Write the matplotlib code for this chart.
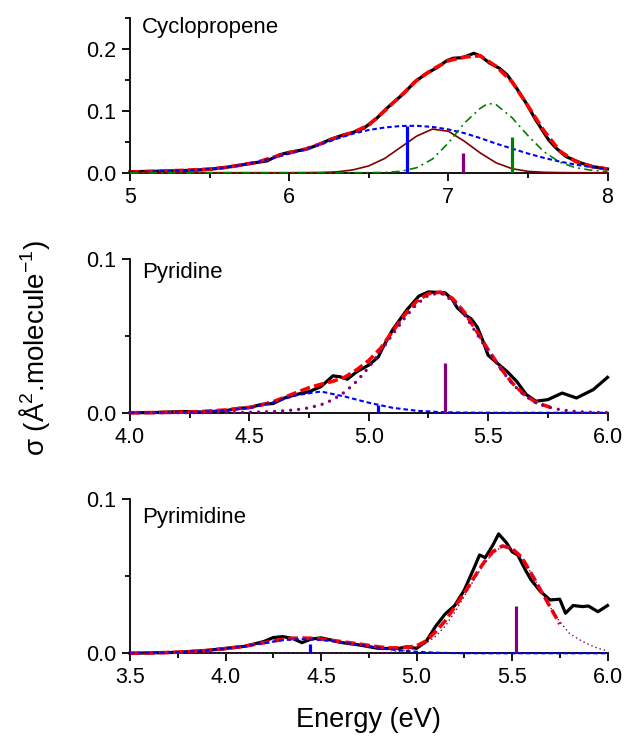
import numpy as np
import matplotlib.pyplot as plt
from matplotlib.ticker import MultipleLocator, FormatStrFormatter

plt.rcParams['font.family'] = ['Liberation Sans', 'DejaVu Sans']
plt.rcParams['mathtext.fontset'] = 'custom'
plt.rcParams['mathtext.rm'] = 'Liberation Sans'
plt.rcParams['mathtext.default'] = 'regular'

# ---------------- Cyclopropene ----------------
cp_exp_E = [5.00, 5.20, 5.40, 5.50, 5.60, 5.69, 5.75, 5.86, 5.94, 6.00, 6.11, 6.19, 6.26,
            6.34, 6.40, 6.47, 6.55, 6.63, 6.72, 6.79, 6.86, 6.93, 6.99, 7.03, 7.09, 7.16,
            7.20, 7.26, 7.32, 7.37, 7.43, 7.49, 7.55, 7.63, 7.68, 7.74, 7.83, 7.91, 8.00]
cp_exp = [0.0016, 0.0025, 0.004, 0.0054, 0.0085, 0.012, 0.0148, 0.019, 0.029, 0.033, 0.038,
          0.046, 0.054, 0.061, 0.065, 0.072, 0.088, 0.108, 0.128, 0.147, 0.160, 0.170, 0.181,
          0.185, 0.186, 0.193, 0.189, 0.177, 0.169, 0.158, 0.136, 0.112, 0.085, 0.053, 0.039,
          0.026, 0.016, 0.0097, 0.006]
cp_E = [5.0, 5.1, 5.2, 5.3, 5.4, 5.5, 5.6, 5.7, 5.8, 5.9, 6.0, 6.1, 6.2, 6.3, 6.4, 6.5,
        6.6, 6.7, 6.8, 6.9, 7.0, 7.1, 7.2, 7.3, 7.4, 7.5, 7.6, 7.7, 7.8, 7.9, 8.0]
cp_fit = [0.001, 0.0018, 0.0025, 0.0035, 0.0045, 0.006, 0.0085, 0.0125, 0.017, 0.025, 0.032,
          0.038, 0.047, 0.057, 0.065, 0.077, 0.100, 0.124, 0.149, 0.167, 0.181, 0.187, 0.189,
          0.172, 0.147, 0.108, 0.068, 0.035, 0.018, 0.010, 0.006]
cp_g1 = [0.001, 0.0015, 0.0025, 0.0035, 0.0045, 0.006, 0.0085, 0.0125, 0.017, 0.024, 0.031,
         0.038, 0.046, 0.055, 0.063, 0.069, 0.073, 0.0755, 0.0758, 0.074, 0.070, 0.064, 0.056,
         0.047, 0.039, 0.031, 0.024, 0.018, 0.013, 0.009, 0.006]
cp_g2 = [0, 0, 0, 0, 0, 0, 0, 0, 0, 0, 0, 0.0001, 0.0004, 0.0014, 0.0045, 0.011, 0.023,
         0.041, 0.059, 0.0705, 0.067, 0.051, 0.032, 0.016, 0.0065, 0.0022, 0.0007, 0.0002,
         0, 0, 0]
cp_g3_E = [5.0, 6.0, 6.5, 6.6, 6.7, 6.8, 6.9, 7.0, 7.1, 7.2, 7.25, 7.3, 7.4, 7.5, 7.6, 7.7,
           7.8, 7.9, 8.0]
cp_g3 = [0, 0, 0.0001, 0.0005, 0.0022, 0.008, 0.022, 0.048, 0.080, 0.104, 0.112, 0.110,
         0.089, 0.060, 0.034, 0.017, 0.008, 0.004, 0.002]
cp_stick_E = [6.74, 7.09, 7.40]
cp_stick_h = [0.076, 0.032, 0.058]

# ---------------- Pyridine ----------------
py_exp_E = [4.00, 4.10, 4.22, 4.30, 4.40, 4.45, 4.50, 4.55, 4.60, 4.65, 4.70, 4.75, 4.80,
            4.85, 4.88, 4.91, 4.95, 5.00, 5.04, 5.06, 5.10, 5.16, 5.21, 5.25, 5.32, 5.35,
            5.37, 5.40, 5.43, 5.455, 5.48, 5.50, 5.54, 5.58, 5.62, 5.66, 5.70, 5.75, 5.81,
            5.87, 5.94, 6.00]
py_exp = [0.0, 0.0001, 0.0008, 0.0004, 0.0013, 0.0028, 0.0033, 0.0054, 0.006, 0.0098, 0.012,
          0.0137, 0.017, 0.024, 0.0234, 0.0218, 0.0267, 0.031, 0.0363, 0.0427, 0.054, 0.067,
          0.0759, 0.0786, 0.078, 0.0737, 0.0684, 0.0641, 0.0609, 0.0556, 0.046, 0.0374, 0.032,
          0.0267, 0.0203, 0.0118, 0.0075, 0.0085, 0.0128, 0.0096, 0.015, 0.023]
py_fit_E = [4.00, 4.10, 4.20, 4.30, 4.40, 4.50, 4.55, 4.60, 4.65, 4.70, 4.75, 4.80, 4.85,
            4.90, 4.95, 5.00, 5.05, 5.10, 5.15, 5.20, 5.25, 5.30, 5.35, 5.40, 5.45, 5.50,
            5.55, 5.60, 5.65, 5.70, 5.76]
py_fit = [0.0, 0.0001, 0.0003, 0.0008, 0.0018, 0.0035, 0.005, 0.0072, 0.0102, 0.0133, 0.0163,
          0.0185, 0.0205, 0.0232, 0.028, 0.034, 0.042, 0.053, 0.0635, 0.0725, 0.0775, 0.0785,
          0.0745, 0.0655, 0.0535, 0.041, 0.0295, 0.0195, 0.012, 0.0068, 0.0035]
py_g1_E = [4.0, 4.1, 4.2, 4.3, 4.4, 4.5, 4.6, 4.7, 4.8, 4.9, 5.0, 5.1, 5.2, 5.3, 5.4, 5.5,
           5.6, 5.7, 5.8, 5.9, 6.0]
py_g1 = [0, 0.0001, 0.0003, 0.0007, 0.0015, 0.003, 0.0068, 0.0115, 0.0138, 0.0105, 0.0065,
         0.0032, 0.0013, 0.0004, 0.0001, 0, 0, 0, 0, 0, 0]
py_g2_E = [4.00, 4.05, 4.10, 4.15, 4.20, 4.25, 4.30, 4.35, 4.40, 4.45, 4.50, 4.55, 4.60,
           4.65, 4.70, 4.75, 4.80, 4.85, 4.90, 4.95, 5.00, 5.05, 5.10, 5.15, 5.20, 5.25,
           5.30, 5.35, 5.40, 5.45, 5.50, 5.55, 5.60, 5.65, 5.70, 5.75, 5.80, 5.85, 5.90,
           5.95, 6.00]
py_g2 = [0, 0, 0, 0, 0, 0, 0, 0.0001, 0.0001, 0.0002, 0.0003, 0.0005, 0.0008, 0.0013, 0.002,
         0.0032, 0.0052, 0.0085, 0.0135, 0.0205, 0.0295, 0.040, 0.051, 0.0615, 0.0705, 0.0765,
         0.078, 0.073, 0.064, 0.052, 0.040, 0.029, 0.019, 0.0115, 0.0065, 0.0038, 0.002,
         0.001, 0.0005, 0.0002, 0.0001]
py_stick_E = [5.04, 5.32]
py_stick_h = [0.005, 0.0325]

# ---------------- Pyrimidine ----------------
pm_exp_E = [3.50, 3.75, 3.90, 4.00, 4.10, 4.20, 4.25, 4.30, 4.35, 4.40, 4.45, 4.50, 4.55,
            4.60, 4.70, 4.80, 4.90, 4.95, 5.00, 5.05, 5.10, 5.15, 5.20, 5.25, 5.30, 5.33,
            5.36, 5.40, 5.43, 5.47, 5.50, 5.53, 5.57, 5.60, 5.65, 5.70, 5.75, 5.78, 5.82,
            5.87, 5.90, 5.95, 6.00]
pm_exp = [0.0, 0.0006, 0.0018, 0.0032, 0.0045, 0.0076, 0.0102, 0.0108, 0.0097, 0.0069, 0.0093,
          0.0100, 0.0087, 0.0071, 0.0054, 0.0032, 0.0030, 0.0042, 0.0032, 0.0076, 0.0175,
          0.0255, 0.031, 0.041, 0.055, 0.0638, 0.0621, 0.0703, 0.0775, 0.0719, 0.066, 0.0638,
          0.0541, 0.0476, 0.040, 0.0346, 0.0351, 0.026, 0.031, 0.0303, 0.0307, 0.027, 0.031]
pm_fit_E = [3.50, 3.60, 3.70, 3.80, 3.90, 4.00, 4.10, 4.20, 4.30, 4.35, 4.40, 4.45, 4.50,
            4.60, 4.70, 4.80, 4.85, 4.90, 4.95, 5.00, 5.05, 5.10, 5.15, 5.20, 5.25, 5.30,
            5.35, 5.40, 5.45, 5.50, 5.55, 5.60, 5.65, 5.70, 5.75]
pm_fit = [0.0, 0.0002, 0.0005, 0.001, 0.0018, 0.003, 0.0046, 0.0068, 0.009, 0.0097, 0.0099,
          0.0097, 0.0092, 0.0077, 0.006, 0.0042, 0.0035, 0.0035, 0.0039, 0.0048, 0.008, 0.014,
          0.021, 0.030, 0.039, 0.049, 0.0585, 0.066, 0.0697, 0.068, 0.0625, 0.052, 0.041,
          0.030, 0.019]
pm_g1_E = [3.5, 3.6, 3.7, 3.8, 3.9, 4.0, 4.1, 4.2, 4.3, 4.4, 4.5, 4.6, 4.7, 4.8, 4.9, 5.0,
           5.1, 5.2, 5.3, 5.4, 5.5, 5.6, 5.7, 5.8, 5.9, 6.0]
pm_g1 = [0, 0.0002, 0.0005, 0.001, 0.0018, 0.0029, 0.0045, 0.0066, 0.0086, 0.0092, 0.0087,
         0.0073, 0.0055, 0.0036, 0.002, 0.001, 0.0004, 0.0001, 0, 0, 0, 0, 0, 0, 0, 0]
pm_g2_E = [3.5, 4.7, 4.75, 4.80, 4.85, 4.90, 4.95, 5.00, 5.05, 5.10, 5.15, 5.20, 5.25, 5.30,
           5.35, 5.40, 5.45, 5.50, 5.55, 5.60, 5.65, 5.70, 5.75, 5.80, 5.85, 5.90, 5.95, 6.00]
pm_g2 = [0, 0, 0.0001, 0.0002, 0.0005, 0.001, 0.002, 0.0037, 0.0065, 0.011, 0.0175, 0.0265,
         0.037, 0.0475, 0.0575, 0.065, 0.0695, 0.068, 0.0625, 0.052, 0.041, 0.030, 0.0205,
         0.013, 0.009, 0.0058, 0.0032, 0.0015]
pm_stick_E = [4.44, 5.52]
pm_stick_h = [0.006, 0.031]

BLUE = '#0000ff'
PURPLE = '#800080'
GREEN = '#008000'
BROWN = '#800000'

fig = plt.figure(figsize=(6.43, 7.39), dpi=100)
ax1 = fig.add_axes([0.2022, 0.7663, 0.7426, 0.2093])
ax2 = fig.add_axes([0.2022, 0.4415, 0.7426, 0.2080])
ax3 = fig.add_axes([0.2022, 0.1160, 0.7426, 0.2084])


def setup(ax, xlim, ylim, xmaj, xmin, xfmt, name, name_y):
    ax.set_xlim(xlim)
    ax.set_ylim(ylim)
    for s in ['top', 'right']:
        ax.spines[s].set_visible(False)
    for s in ['left', 'bottom']:
        ax.spines[s].set_linewidth(1.3)
    ax.xaxis.set_major_locator(MultipleLocator(xmaj))
    ax.xaxis.set_minor_locator(MultipleLocator(xmin))
    ax.yaxis.set_major_locator(MultipleLocator(0.1))
    ax.yaxis.set_minor_locator(MultipleLocator(0.05))
    ax.xaxis.set_major_formatter(FormatStrFormatter(xfmt))
    ax.yaxis.set_major_formatter(FormatStrFormatter('%.1f'))
    ax.tick_params(which='major', direction='out', length=6, width=1.3,
                   labelsize=15.5, pad=4)
    ax.tick_params(which='minor', direction='out', length=3.5, width=1.3)
    ax.text(0.025, name_y, name, transform=ax.transAxes, fontsize=16, va='baseline')


def exp_fit(ax, xe, ye, xf, yf):
    ax.plot(xe, ye, color='black', lw=2.3, zorder=3, clip_on=False)
    ax.plot(xf, yf, color='red', lw=2.6, dashes=(2.8, 1.2), zorder=4, clip_on=False)


# Cyclopropene
exp_fit(ax1, cp_exp_E, cp_exp, cp_E, cp_fit)
ax1.plot(cp_E, cp_g1, color=BLUE, lw=1.5, dashes=(2.2, 1.4), zorder=5, clip_on=False)
ax1.plot(cp_E, cp_g2, color=BROWN, lw=1.2, zorder=5, clip_on=False)
ax1.plot(cp_g3_E, cp_g3, color=GREEN, lw=1.2, dashes=(5, 2.5, 1.2, 2.5), zorder=5,
         clip_on=False)
ax1.vlines(cp_stick_E, 0, cp_stick_h, colors=[BLUE, PURPLE, GREEN], lw=2.3, zorder=6)
setup(ax1, (5, 8), (0, 0.25), 1, 0.5, '%d', 'Cyclopropene', 0.903)

# Pyridine
exp_fit(ax2, py_exp_E, py_exp, py_fit_E, py_fit)
ax2.plot(py_g1_E, py_g1, color=BLUE, lw=1.5, dashes=(2.2, 1.4), zorder=5, clip_on=False)
ax2.plot(py_g2_E, py_g2, color=PURPLE, lw=2.4, linestyle=(0, (0.01, 2.4)),
         dash_capstyle='round', solid_capstyle='round', zorder=5, clip_on=False)
ax2.vlines(py_stick_E, 0, py_stick_h, colors=[BLUE, PURPLE], lw=2.3, zorder=6)
setup(ax2, (4, 6), (0, 0.1), 0.5, 0.25, '%.1f', 'Pyridine', 0.877)

# Pyrimidine
exp_fit(ax3, pm_exp_E, pm_exp, pm_fit_E, pm_fit)
ax3.plot(pm_g1_E, pm_g1, color=BLUE, lw=1.5, dashes=(2.2, 1.4), zorder=5, clip_on=False)
ax3.plot(pm_g2_E, pm_g2, color=PURPLE, lw=1.2, linestyle=(0, (0.01, 2.6)),
         dash_capstyle='round', zorder=5, clip_on=False)
ax3.vlines(pm_stick_E, 0, pm_stick_h, colors=[BLUE, PURPLE], lw=2.3, zorder=6)
setup(ax3, (3.5, 6), (0, 0.1), 0.5, 0.25, '%.1f', 'Pyrimidine', 0.844)

fig.text(368 / 643, 1 - 720 / 739, 'Energy (eV)', ha='center', va='center', fontsize=19.5)
fig.text(35 / 643, 1 - 348 / 739, 'σ (Å$^2$.molecule$^{-1}$)', ha='center', va='center',
         rotation=90, fontsize=20)

fig.savefig('out.png', dpi=100)
